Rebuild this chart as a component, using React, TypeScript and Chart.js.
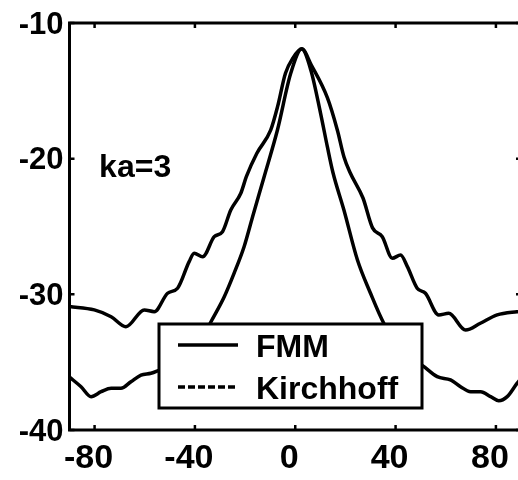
import React, { useEffect, useRef } from "react";
import { Chart, registerables } from "chart.js";

Chart.register(...registerables);

// ---- data ----
const X_TICKS = [-80, -40, 0, 40, 80];
const Y_TICKS = [-40, -30, -20, -10];
const SERIES_NAMES = ["FMM", "Kirchhoff"];
const ANNOTATION = "ka=3";

const fmmAngles = [
  -90, -80.1, -73.4, -67.5, -60.2, -56.2, -50.9, -46.9, -42.3, -40.3, -36.9, -32.3, -29.0,
  -25.7, -21.7, -19.5, -15.3, -9.8, -7.1, -3.9, -1.0, 2.6, 6.4, 12.8, 16.8, 19.4, 21.8,
  27.0, 30.8, 34.7, 38.7, 42.0, 44.7, 48.6, 51.9, 57.2, 61.2, 67.9, 73.8, 80.5, 88.4, 90,
];
const fmmDb = [
  -30.9, -31.15, -31.65, -32.39, -31.15, -31.28, -29.92, -29.55, -27.59, -26.97, -27.23, -25.75, -25.38,
  -23.78, -22.55, -21.33, -19.6, -17.9, -16.2, -13.7, -12.6, -11.9, -13.1, -15.5, -17.9, -19.85, -21.0,
  -22.9, -25.1, -25.75, -27.34, -27.1, -27.96, -29.55, -29.92, -31.52, -31.4, -32.63, -32.13, -31.52, -31.28, -31.25,
];

const kirAngles = [
  -90, -85.4, -81.4, -77.4, -73.4, -69.5, -65.5, -61.5, -57.5, -54.2, -48, -42, -37, -33.6,
  -28.3, -24.4, -20.4, -17.0, -12.4, -7.1, -1.8, 2.6, 6.2, 10.1, 12.8, 15.0, 19.4, 24.8,
  30.0, 35.3, 40, 45, 51.3, 56.6, 61.9, 65.9, 69.9, 73.9, 77.9, 81.1, 84.5, 88.4, 90,
];
const kirDb = [
  -36.1, -36.81, -37.54, -37.18, -36.93, -36.93, -36.44, -35.95, -35.82, -35.58, -35.1, -34.3, -33.2, -32.02,
  -30.17, -28.45, -26.49, -24.28, -21.33, -17.89, -13.71, -11.92, -13.46, -16.66, -19.12, -21.0, -23.78, -27.47,
  -29.92, -32.13, -33.4, -34.4, -35.33, -36.07, -36.31, -36.81, -37.18, -37.18, -37.54, -37.84, -37.54, -36.56, -36.2,
];

const FONT = '"Liberation Sans", Arial, Helvetica, sans-serif';

export default function App() {
  const ref = useRef<HTMLCanvasElement>(null);

  useEffect(() => {
    const decor = {
      id: "decor",
      afterDatasetsDraw(chart: any) {
        const ctx = chart.ctx as CanvasRenderingContext2D;
        const xs = chart.scales.x;
        const ys = chart.scales.y;
        ctx.save();
        // annotation
        ctx.fillStyle = "#000";
        ctx.font = `bold 32px ${FONT}`;
        ctx.textBaseline = "alphabetic";
        ctx.textAlign = "left";
        ctx.fillText(ANNOTATION, xs.getPixelForValue(-78.2), ys.getPixelForValue(-21.35));

        // legend box
        const L = 159, T = 324, R = 422, B = 408;
        ctx.fillStyle = "#fff";
        ctx.fillRect(L, T, R - L, B - T);
        ctx.strokeStyle = "#000";
        ctx.lineWidth = 3;
        ctx.strokeRect(L, T, R - L, B - T);

        ctx.lineWidth = 3.5;
        ctx.beginPath();
        ctx.setLineDash([]);
        ctx.moveTo(178, 345);
        ctx.lineTo(238, 345);
        ctx.stroke();
        ctx.beginPath();
        ctx.setLineDash([7, 3]);
        ctx.moveTo(178, 387);
        ctx.lineTo(238, 387);
        ctx.stroke();
        ctx.setLineDash([]);

        ctx.fillStyle = "#000";
        ctx.font = `bold 32px ${FONT}`;
        ctx.fillText(SERIES_NAMES[0], 256, 357);
        ctx.fillText(SERIES_NAMES[1], 256, 399);
        ctx.restore();
      },
      afterDraw(chart: any) {
        const ctx = chart.ctx as CanvasRenderingContext2D;
        const { left, top, right, bottom } = chart.chartArea;
        const xs = chart.scales.x;
        const ys = chart.scales.y;
        ctx.save();
        ctx.strokeStyle = "#000";
        ctx.lineWidth = 3;
        ctx.strokeRect(left, top, right - left, bottom - top);
        ctx.lineWidth = 2.5;
        ctx.beginPath();
        for (const v of X_TICKS) {
          const px = xs.getPixelForValue(v);
          ctx.moveTo(px, bottom);
          ctx.lineTo(px, bottom - 5);
          ctx.moveTo(px, top);
          ctx.lineTo(px, top + 5);
        }
        for (const v of Y_TICKS) {
          const py = ys.getPixelForValue(v);
          ctx.moveTo(left, py);
          ctx.lineTo(left + 5, py);
          ctx.moveTo(right, py);
          ctx.lineTo(right - 5, py);
        }
        ctx.stroke();
        ctx.restore();
      },
    };

    const chart = new Chart(ref.current!, {
      type: "line",
      data: {
        datasets: [
          {
            label: SERIES_NAMES[0],
            data: fmmAngles.map((x, i) => ({ x, y: fmmDb[i] })),
            borderColor: "#000",
            borderWidth: 3.5,
            pointRadius: 0,
            fill: false,
            cubicInterpolationMode: "monotone",
          },
          {
            label: SERIES_NAMES[1],
            data: kirAngles.map((x, i) => ({ x, y: kirDb[i] })),
            borderColor: "#000",
            borderWidth: 3.5,
            pointRadius: 0,
            fill: false,
            cubicInterpolationMode: "monotone",
          },
        ],
      },
      options: {
        animation: false,
        responsive: true,
        maintainAspectRatio: false,
        layout: { padding: { top: 23, right: 3, left: 0, bottom: 0 } },
        plugins: { legend: { display: false }, tooltip: { enabled: false } },
        scales: {
          x: {
            type: "linear",
            min: -90,
            max: 90,
            afterBuildTicks: (s: any) => {
              s.ticks = X_TICKS.map((v) => ({ value: v }));
            },
            afterFit: (s: any) => {
              s.height = 50;
              s.paddingLeft = 0;
              s.paddingRight = 0;
            },
            grid: { display: false, drawTicks: false },
            border: { display: false },
            ticks: {
              color: "#000",
              font: { family: FONT, size: 34, weight: "bold" },
              padding: 8,
              labelOffset: -6,
              maxRotation: 0,
              autoSkip: false,
            },
          },
          y: {
            type: "linear",
            min: -40,
            max: -10,
            afterBuildTicks: (s: any) => {
              s.ticks = Y_TICKS.map((v) => ({ value: v }));
            },
            afterFit: (s: any) => {
              s.width = 69.5;
              s.paddingTop = 0;
              s.paddingBottom = 0;
            },
            grid: { display: false, drawTicks: false },
            border: { display: false },
            ticks: {
              color: "#000",
              font: { family: FONT, size: 31, weight: "bold" },
              padding: 6,
              labelOffset: 2,
              autoSkip: false,
            },
          },
        },
      },
      plugins: [decor],
    } as any);
    return () => chart.destroy();
  }, []);

  return (
    <div
      style={{
        position: "fixed",
        left: 0,
        top: 0,
        width: 518,
        height: 480,
        overflow: "hidden",
        background: "#fff",
      }}
    >
      <div style={{ position: "relative", width: 524, height: 480 }}>
        <canvas ref={ref} />
      </div>
    </div>
  );
}
